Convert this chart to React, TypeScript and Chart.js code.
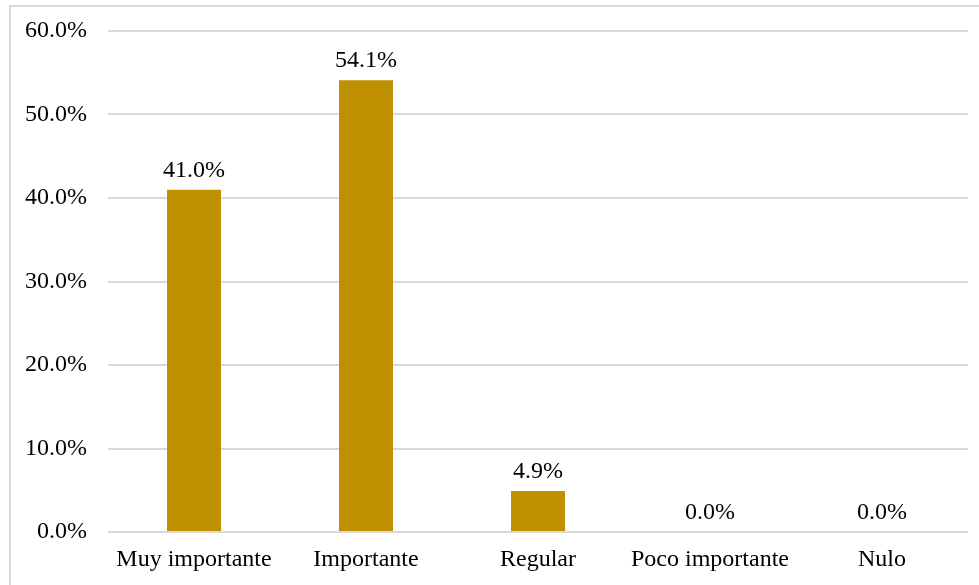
import React, { useEffect, useRef } from "react";
import { Chart, registerables } from "chart.js";

Chart.register(...registerables);

const categories = ["Muy importante", "Importante", "Regular", "Poco importante", "Nulo"];
const values = [41.0, 54.1, 4.9, 0.0, 0.0];
const yTicks = [0, 10, 20, 30, 40, 50, 60];

const FONT = "'Liberation Serif', 'Times New Roman', serif";

const labelPlugin = {
  id: "barLabels",
  afterDatasetsDraw(chart: any) {
    const ctx = chart.ctx;
    const meta = chart.getDatasetMeta(0);
    ctx.save();
    ctx.font = `24px ${FONT}`;
    ctx.fillStyle = "#000000";
    ctx.textAlign = "center";
    ctx.textBaseline = "alphabetic";
    meta.data.forEach((bar: any, i: number) => {
      ctx.fillText(values[i].toFixed(1) + "%", bar.x, bar.y - 13);
    });
    ctx.restore();
  },
};

export default function App() {
  const ref = useRef<HTMLCanvasElement>(null);
  useEffect(() => {
    if (!ref.current) return;
    const chart = new Chart(ref.current, {
      type: "bar",
      data: {
        labels: categories,
        datasets: [
          {
            data: values,
            backgroundColor: "#BF9000",
            borderWidth: 0,
            categoryPercentage: 1,
            barPercentage: 0.314,
          },
        ],
      },
      options: {
        animation: false,
        responsive: false,
        devicePixelRatio: 1,
        layout: { padding: { left: 0, right: 11, top: 31, bottom: 0 } },
        plugins: { legend: { display: false }, tooltip: { enabled: false } },
        scales: {
          x: {
            grid: { display: false, drawTicks: false },
            border: { display: false },
            ticks: {
              color: "#000000",
              font: { family: FONT, size: 24 },
              padding: 13,
              maxRotation: 0,
              autoSkip: false,
            },
            afterFit(scale: any) {
              scale.height = 53;
              scale.paddingLeft = 0;
              scale.paddingRight = 0;
            },
          },
          y: {
            min: 0,
            max: 60,
            afterBuildTicks(scale: any) {
              scale.ticks = yTicks.map((v) => ({ value: v }));
            },
            grid: { color: "#d9d9d9", lineWidth: 2, drawTicks: false },
            border: { display: false },
            ticks: {
              color: "#000000",
              font: { family: FONT, size: 24 },
              padding: 21,
              callback: (v: any) => Number(v).toFixed(1) + "%",
            },
            afterFit(scale: any) {
              scale.width = 108;
              scale.paddingTop = 0;
              scale.paddingBottom = 0;
            },
          },
        },
      },
      plugins: [labelPlugin],
    });
    return () => chart.destroy();
  }, []);
  return (
    <div style={{ position: "fixed", left: 0, top: 0, width: 979, height: 585, background: "#fff", overflow: "hidden" }}>
      <div
        style={{
          position: "absolute",
          left: 9,
          top: 5,
          width: 1000,
          height: 620,
          border: "2px solid #d9d9d9",
        }}
      />
      <canvas ref={ref} width={979} height={585} style={{ position: "absolute", left: 0, top: 0 }} />
    </div>
  );
}
